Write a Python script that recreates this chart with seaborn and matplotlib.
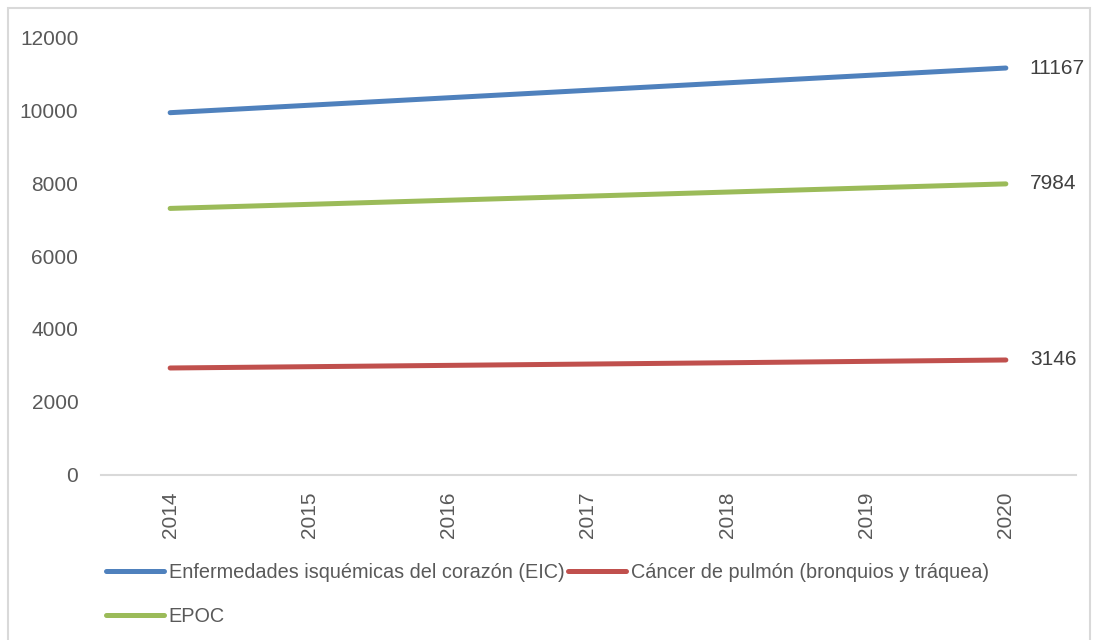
import matplotlib
matplotlib.use("Agg")
import matplotlib.pyplot as plt
from matplotlib import font_manager
from matplotlib.lines import Line2D
from matplotlib.patches import Rectangle
import seaborn as sns
import pandas as pd

years = [2014, 2015, 2016, 2017, 2018, 2019, 2020]
eic = [9940, 10145, 10350, 10555, 10760, 10963, 11167]
cancer = [2926, 2962, 2998, 3034, 3070, 3108, 3146]
epoc = [7310, 7422, 7535, 7647, 7759, 7872, 7984]

series_names = [
    "Enfermedades isquémicas del corazón (EIC)",
    "Cáncer de pulmón (bronquios y tráquea)",
    "EPOC",
]
series_values = [eic, cancer, epoc]
colors = ["#4F81BD", "#C0504D", "#9BBB59"]
y_ticks = [0, 2000, 4000, 6000, 8000, 10000, 12000]

rows = []
for name, vals in zip(series_names, series_values):
    for yr, v in zip(years, vals):
        rows.append({"year": yr, "value": v, "serie": name})
df = pd.DataFrame(rows)

sns.set_theme(style="white")
available = {f.name for f in font_manager.fontManager.ttflist}
family = "Liberation Sans Narrow" if "Liberation Sans Narrow" in available else "Liberation Sans"
plt.rcParams["font.family"] = [family, "DejaVu Sans"]

text_color = "#595959"
fs = 15
leg_fs = 14.3

fig = plt.figure(figsize=(10.94, 6.40), dpi=100)
W, H = 1094, 640
ax = fig.add_axes([100.5 / W, 1 - 474.5 / H, 975 / W, (474.5 - 37.7) / H])

sns.lineplot(data=df, x="year", y="value", hue="serie", hue_order=series_names,
             palette=colors, linewidth=3.6, ax=ax, legend=False,
             solid_capstyle="round")

ax.set_xlim(2013.5, 2020.5)
ax.set_ylim(0, 12000)
ax.set_xticks(years)
ax.set_xticklabels([str(y) for y in years], rotation=90, fontsize=fs, color=text_color)
ax.set_yticks(y_ticks)
ax.set_yticklabels([str(t) for t in y_ticks], fontsize=fs, color=text_color)
ax.tick_params(axis="x", length=0, pad=12)
ax.tick_params(axis="y", length=0, pad=16)
ax.set_xlabel("")
ax.set_ylabel("")
for side in ["top", "right", "left"]:
    ax.spines[side].set_visible(False)
ax.spines["bottom"].set_color("#D9D9D9")
ax.spines["bottom"].set_linewidth(1.5)

# value labels at the last year
for vals in series_values:
    ax.annotate(str(vals[-1]), xy=(years[-1], vals[-1]), xytext=(24, 0),
                textcoords="offset pixels", va="center", ha="left",
                fontsize=fs, color="#404040")

# legend: two columns, EIC and EPOC in the first, cancer in the second
handles = [Line2D([0], [0], color=c, lw=3.6, solid_capstyle="round") for c in colors]
order = [0, 2, 1]
fig.legend([handles[i] for i in order], [series_names[i] for i in order],
           loc="upper left", bbox_to_anchor=(106 / W, 1 - 563 / H),
           ncol=2, frameon=False, fontsize=leg_fs, labelcolor=text_color,
           handlelength=2.9, handletextpad=0.25, columnspacing=0.2,
           labelspacing=1.25, borderpad=0, borderaxespad=0)

# outer chart border
fig.patches.append(Rectangle((8 / W, -0.1), (W - 12) / W, 1.1 - 8 / H,
                             transform=fig.transFigure, fill=False,
                             edgecolor="#D9D9D9", linewidth=1.5))

fig.savefig("out.png", dpi=100)
